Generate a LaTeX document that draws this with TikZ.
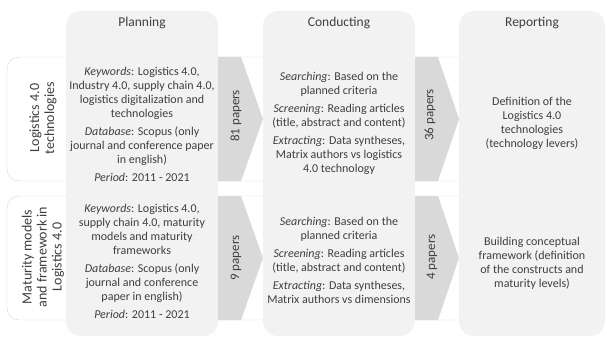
\documentclass[tikz,border=0pt]{standalone}
\usepackage{fontspec}
\setmainfont{Carlito}
\definecolor{panelgray}{HTML}{F2F2F2}
\definecolor{arrowgray}{HTML}{D9D9D9}
\definecolor{linegray}{HTML}{D6D6D6}
\definecolor{textgray}{HTML}{3F3F3F}

\begin{document}
\begin{tikzpicture}[x=1pt, y=-1pt, text=textgray,
  body/.style={align=center, font=\fontsize{12}{14}\selectfont},
  head/.style={font=\fontsize{13.5}{16}\selectfont},
  rowlabel/.style={rotate=90, align=center, font=\fontsize{14}{15}\selectfont},
  papers/.style={rotate=90, font=\fontsize{13}{15}\selectfont}]
  \useasboundingbox (0,0) rectangle (607,342);
  % rows behind the phases
  \foreach \y in {57,196}
    \draw[linegray, fill=white, rounded corners=12pt] (7,\y) rectangle ++(596,124);
  % phases
  \foreach \x/\w/\n/\t in {66/152/plan/Planning, 263/152/cond/Conducting, 459/146/rep/Reporting} {
    \fill[panelgray, rounded corners=15pt] (\x,11) rectangle ++(\w,325);
    \node[head] (\n) at (\x+\w/2,23) {\t};
  }
  % chevrons between phases
  \foreach \x/\y/\tip in {218/57/263, 415/57/459, 218/196/263, 415/196/459}
    \fill[arrowgray] (\x,\y) -- ++(23,0) -- (\tip,\y+62) -- (\x+23,\y+124) -- (\x,\y+124) -- cycle;
  \node[papers] (p81) at (236,116) {81 papers};
  \node[papers] (p36) at (430,115) {36 papers};
  \node[papers] (p9) at (236,258) {9 papers};
  \node[papers] (p4) at (432,257) {4 papers};
  % row labels
  \node[rowlabel] (techrow) at (43,118) {Logistics 4.0\\technologies};
  \node[rowlabel] (matrow) at (43,257) {Maturity models\\and framework in\\Logistics 4.0};
  % phase contents
  \node[body] (plantech) at (142,124.5) {\textit{Keywords}: Logistics 4.0,\\Industry 4.0, supply chain 4.0,\\logistics digitalization and\\technologies\\[4pt]
    \textit{Database}: Scopus (only\\journal and conference paper\\in english)\\[4pt]\textit{Period}: 2011 - 2021};
  \node[body] (planmat) at (142,261.5) {\textit{Keywords}: Logistics 4.0,\\supply chain 4.0, maturity\\models and maturity\\frameworks\\[4pt]
    \textit{Database}: Scopus (only\\journal and conference\\paper in english)\\[4pt]\textit{Period}: 2011 - 2021};
  \node[body] (condtech) at (339,123) {\textit{Searching}: Based on the\\planned criteria\\[4pt]\textit{Screening}: Reading articles\\(title, abstract and content)\\[4pt]
    \textit{Extracting}: Data syntheses,\\Matrix authors vs logistics\\4.0 technology};
  \node[body] (condmat) at (339,260.5) {\textit{Searching}: Based on the\\planned criteria\\[4pt]\textit{Screening}: Reading articles\\(title, abstract and content)\\[4pt]
    \textit{Extracting}: Data syntheses,\\Matrix authors vs dimensions};
  \node[body] (reptech) at (532,123) {Definition of the\\Logistics 4.0\\technologies\\(technology levers)};
  \node[body] (repmat) at (532,263.5) {Building conceptual\\framework (definition\\of the constructs and\\maturity levels)};
\end{tikzpicture}
\end{document}
